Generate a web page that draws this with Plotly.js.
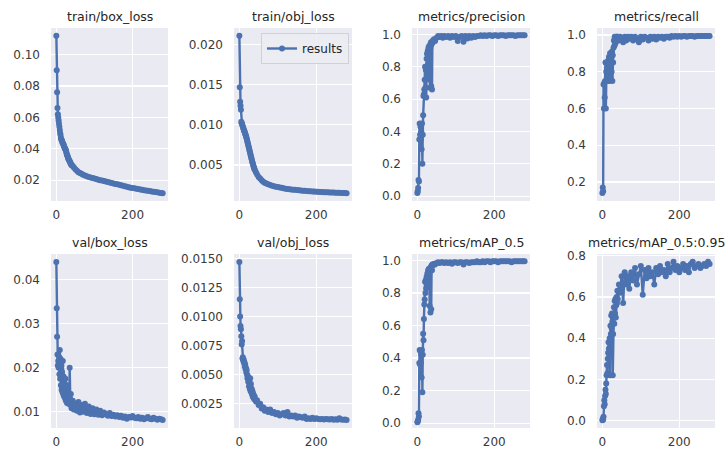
<!DOCTYPE html>
<html><head><meta charset="utf-8">
<script src="https://cdn.plot.ly/plotly-3.0.1.min.js"></script>
<style>html,body{margin:0;padding:0;background:#fff}#chart{width:727px;height:452px}</style>
</head><body><div id="chart"></div>
<script>
const epochs = [0,1,2,3,4,5,6,7,8,9,10,11,12,13,14,15,16,17,18,19,20,21,22,23,24,25,26,27,28,29,30,31,32,33,34,35,36,37,38,39,40,
 43,46,50,54,58,62,66,70,
 75,80,85,90,95,100,105,110,115,120,125,130,135,140,145,150,155,160,165,170,175,180,185,190,195,200,205,210,215,220,225,230,235,240,245,250,255,260,265,270,275,279];

const trainBoxLoss = [0.112,0.090,0.076,0.066,0.062,0.060,0.058,0.056,0.054,0.052,0.050,0.049,0.047,0.046,0.0455,0.045,0.044,0.0435,0.043,0.0425,0.042,0.041,0.0405,0.040,0.0395,0.039,0.038,0.037,0.036,0.0355,0.035,0.034,0.0335,0.033,0.0325,0.032,0.0315,0.031,0.0305,0.030,0.0295,
 0.029,0.028,0.027,0.026,0.025,0.0245,0.024,0.0235,
 0.023,0.0225,0.022,0.0217,0.0214,0.021,0.0207,0.0203,0.020,0.0197,0.0194,0.0191,0.0188,0.0185,0.0182,0.0179,0.0176,0.0173,0.017,0.0167,0.0164,0.0161,0.0158,0.0155,0.0152,0.015,0.0148,0.0145,0.0143,0.014,0.0138,0.0136,0.0134,0.0132,0.013,0.0128,0.0126,0.0124,0.0122,0.012,0.0118,0.0117];

const trainObjLoss = [0.0211,0.0147,0.0129,0.0124,0.0119,0.0104,0.0102,0.0101,0.0099,0.0098,0.0096,0.0095,0.0093,0.0092,0.0091,0.0089,0.0088,0.0086,0.0085,0.0083,0.0081,0.0079,0.0077,0.0075,0.0073,0.0071,0.0069,0.0067,0.0065,0.0063,0.0061,0.0059,0.0057,0.0055,0.0053,0.0052,0.0050,0.0048,0.0047,0.0045,0.0044,
 0.0041,0.0038,0.0035,0.0033,0.0031,0.0029,0.0028,0.0027,
 0.0026,0.0025,0.0024,0.00235,0.0023,0.00225,0.0022,0.00215,0.0021,0.00205,0.0020,0.00198,0.00195,0.00192,0.0019,0.00188,0.00185,0.00182,0.0018,0.00178,0.00176,0.00174,0.00172,0.0017,0.00168,0.00167,0.00165,0.00164,0.00162,0.00161,0.0016,0.00159,0.00158,0.00157,0.00156,0.00155,0.00154,0.00153,0.00152,0.00151,0.0015,0.00149];

const precision = [0.02,0.03,0.05,0.10,0.09,0.35,0.45,0.38,0.43,0.35,0.40,0.29,0.45,0.20,0.38,0.50,0.62,0.63,0.66,0.72,0.80,0.67,0.78,0.61,0.85,0.88,0.75,0.90,0.82,0.92,0.88,0.93,0.72,0.67,0.92,0.95,0.68,0.94,0.66,0.96,0.95,
 0.97,0.96,0.98,0.99,0.985,0.99,0.98,0.99,
 0.985,0.99,0.98,0.99,0.985,0.99,0.96,0.985,0.99,0.955,0.99,0.975,0.99,0.98,0.99,0.985,0.99,0.99,0.995,0.99,0.995,0.99,0.995,0.995,0.99,0.995,0.995,0.99,0.995,0.995,0.995,0.99,0.995,0.995,0.995,0.995,0.99,0.995,0.995,0.995,0.995,0.995];

const recall = [0.14,0.17,0.15,0.73,0.60,0.74,0.66,0.75,0.85,0.60,0.80,0.85,0.76,0.82,0.75,0.86,0.78,0.88,0.75,0.84,0.90,0.77,0.86,0.88,0.80,0.91,0.75,0.89,0.85,0.93,0.97,0.94,0.99,0.95,0.98,0.96,0.99,0.97,0.99,0.98,0.99,
 0.97,0.99,0.98,0.96,0.99,0.97,0.99,0.98,
 0.99,0.97,0.99,0.98,0.96,0.99,0.975,0.99,0.985,0.97,0.99,0.98,0.99,0.975,0.99,0.985,0.99,0.98,0.99,0.99,0.985,0.995,0.99,0.995,0.99,0.995,0.99,0.995,0.995,0.99,0.995,0.995,0.995,0.99,0.995,0.995,0.995,0.995,0.995,0.995,0.995,0.995];

const valBoxLoss = [0.044,0.0335,0.027,0.023,0.0205,0.0215,0.020,0.0225,0.0185,0.024,0.0175,0.022,0.016,0.0205,0.015,0.019,0.0145,0.0215,0.014,0.018,0.0135,0.0165,0.0155,0.013,0.0175,0.0125,0.015,0.014,0.012,0.016,0.0125,0.014,0.0118,0.0135,0.0125,0.020,0.013,0.0115,0.014,0.012,0.0108,
 0.0125,0.0105,0.0118,0.0102,0.0122,0.0098,0.0115,0.0100,
 0.0118,0.0097,0.0112,0.0095,0.0108,0.0094,0.0105,0.0093,0.0102,0.0092,0.0098,0.0094,0.0091,0.0097,0.009,0.0093,0.0089,0.0092,0.0088,0.0091,0.0086,0.0089,0.0084,0.0088,0.0087,0.009,0.0086,0.0085,0.0088,0.0084,0.0086,0.0083,0.0085,0.0088,0.0084,0.0083,0.0086,0.0084,0.0082,0.0084,0.0083,0.0081];

const valObjLoss = [0.0147,0.0115,0.0100,0.0092,0.0089,0.0083,0.0076,0.0079,0.0064,0.0065,0.0062,0.0063,0.0060,0.0061,0.0057,0.0059,0.0055,0.0056,0.0052,0.0054,0.0050,0.0047,0.0049,0.0044,0.0046,0.0040,0.0045,0.0038,0.0047,0.0036,0.0042,0.0035,0.0038,0.0033,0.0036,0.0031,0.0034,0.0030,0.0032,0.0029,0.0031,
 0.0027,0.0028,0.0024,0.0025,0.0021,0.0022,0.0019,0.0020,
 0.0018,0.0020,0.0017,0.0018,0.0016,0.0017,0.0015,0.0016,0.0017,0.0015,0.0018,0.0014,0.0015,0.0014,0.0015,0.0013,0.0014,0.00135,0.0013,0.0014,0.0012,0.00125,0.0012,0.0013,0.0012,0.00125,0.0012,0.00118,0.0012,0.00115,0.0012,0.00118,0.00115,0.0012,0.00113,0.00118,0.00112,0.00125,0.00115,0.00112,0.00115,0.0011];

const mAP50 = [0.005,0.01,0.02,0.06,0.04,0.37,0.45,0.36,0.44,0.37,0.42,0.28,0.45,0.19,0.42,0.55,0.51,0.64,0.73,0.76,0.87,0.80,0.88,0.83,0.90,0.86,0.92,0.88,0.94,0.90,0.95,0.92,0.72,0.95,0.68,0.96,0.70,0.97,0.94,0.975,0.97,
 0.98,0.975,0.985,0.99,0.985,0.99,0.99,0.985,
 0.99,0.985,0.99,0.98,0.99,0.99,0.985,0.99,0.99,0.975,0.99,0.99,0.985,0.99,0.99,0.99,0.995,0.99,0.99,0.995,0.99,0.995,0.995,0.99,0.995,0.995,0.995,0.99,0.995,0.995,0.995,0.995,0.995,0.995,0.99,0.995,0.995,0.995,0.995,0.995,0.995,0.995];

const mAP5095 = [0.003,0.01,0.005,0.02,0.07,0.10,0.08,0.12,0.15,0.13,0.18,0.22,0.27,0.23,0.30,0.33,0.38,0.35,0.31,0.40,0.22,0.46,0.42,0.51,0.45,0.52,0.48,0.22,0.42,0.50,0.55,0.47,0.58,0.52,0.59,0.50,0.56,0.60,0.57,0.63,0.59,
 0.66,0.62,0.70,0.57,0.72,0.66,0.70,0.64,
 0.72,0.68,0.74,0.66,0.71,0.75,0.61,0.73,0.69,0.74,0.70,0.72,0.66,0.74,0.71,0.75,0.72,0.73,0.70,0.76,0.72,0.74,0.77,0.73,0.75,0.72,0.74,0.76,0.73,0.75,0.72,0.76,0.77,0.74,0.75,0.76,0.74,0.75,0.76,0.75,0.77,0.76];

const titles = ['train/box_loss','train/obj_loss','metrics/precision','metrics/recall',
                'val/box_loss','val/obj_loss','metrics/mAP_0.5','metrics/mAP_0.5:0.95'];
const seriesList = [trainBoxLoss, trainObjLoss, precision, recall, valBoxLoss, valObjLoss, mAP50, mAP5095];
const legendName = 'results';

// layout (positions/styles)
const W = 727, H = 452;
const colPx = [[51,168],[234,352],[412,530],[597,715]];
const rowPx = [[28,201],[254,428]];
const yRanges = [[0.0067,0.117],[0.00051,0.02208],[-0.03,1.04],[0.097,1.038],
                 [0.0063,0.0458],[0.00042,0.01538],[-0.03,1.04],[-0.035,0.808]];
const yDticks = [0.02,0.005,0.2,0.2,0.01,0.0025,0.2,0.2];
const yFormats = ['.2f','.3f','.1f','.1f','.2f','.4f','.1f','.1f'];
const color = '#4c72b0';
const tickFont = {family:'DejaVu Sans', size:12, color:'#3a3a3a'};

const traces = [];
const layout = {
  width: W, height: H,
  margin: {l:0, r:0, t:0, b:0},
  paper_bgcolor: '#ffffff',
  plot_bgcolor: '#eaeaf2',
  font: {family:'DejaVu Sans', size:12, color:'#262626'},
  showlegend: true,
  legend: {x: 349/W, xanchor:'right', y: 1-33/H, yanchor:'top',
           bgcolor:'rgba(236,236,243,0.9)', bordercolor:'#d0d0d8', borderwidth:1,
           font:{family:'DejaVu Sans', size:12, color:'#262626'},
           itemwidth:30, tracegroupgap:0},
  annotations: []
};

seriesList.forEach((vals, i) => {
  const r = Math.floor(i/4), c = i%4;
  const n = i+1;
  const xa = 'x' + (n===1?'':n), ya = 'y' + (n===1?'':n);
  traces.push({
    x: epochs, y: vals, xaxis: xa, yaxis: ya,
    type:'scatter', mode:'lines+markers',
    name: legendName, showlegend: i===1,
    line:{color:color, width:2.4},
    marker:{color:color, size:6}
  });
  const xk = 'xaxis' + (n===1?'':n), yk = 'yaxis' + (n===1?'':n);
  layout[xk] = {
    domain:[colPx[c][0]/W, colPx[c][1]/W], anchor: ya,
    range:[-14,293], tick0:0, dtick:200,
    showgrid:true, gridcolor:'#ffffff', gridwidth:1.2, zeroline:false, showline:false,
    ticks:'', ticklabelstandoff:5, tickfont:tickFont, fixedrange:true
  };
  layout[yk] = {
    domain:[1-rowPx[r][1]/H, 1-rowPx[r][0]/H], anchor: xa,
    range: yRanges[i], tick0:0, dtick:yDticks[i], tickformat:yFormats[i],
    showgrid:true, gridcolor:'#ffffff', gridwidth:1.2, zeroline:false, showline:false,
    ticks:'', ticklabelstandoff:10, tickfont:tickFont, fixedrange:true
  };
  layout.annotations.push({
    text: titles[i], xref:'paper', yref:'paper',
    x: (colPx[c][0]+colPx[c][1])/2/W, y: 1-(rowPx[r][0]-12)/H,
    xanchor:'center', yanchor:'middle', showarrow:false,
    font:{family:'DejaVu Sans', size:12.5, color:'#262626'}
  });
});

Plotly.newPlot('chart', traces, layout, {displayModeBar:false, staticPlot:true});
</script></body></html>
